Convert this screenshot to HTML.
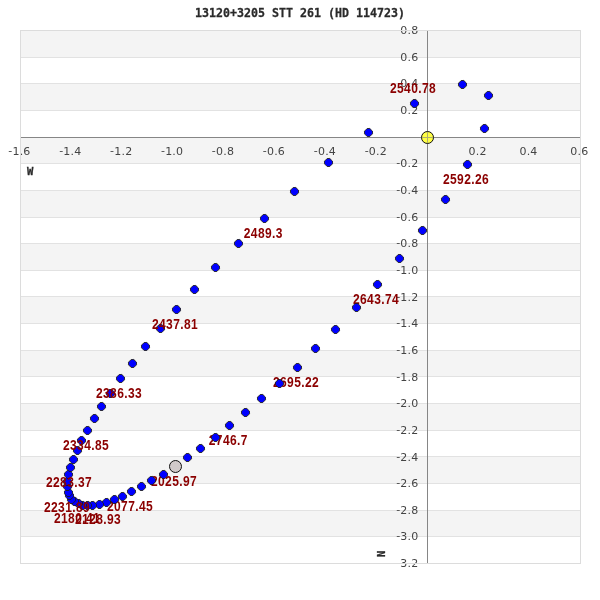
<!DOCTYPE html>
<html lang="en"><head><meta charset="utf-8"><title>13120+3205 STT 261 (HD 114723)</title>
<style>
html,body{margin:0;padding:0;background:#fff;}
body{width:600px;height:600px;overflow:hidden;}
svg{display:block;}
.tk{font-family:"DejaVu Sans","Liberation Sans",sans-serif;font-size:11px;fill:#444;letter-spacing:0.2px;}
.lb{font-family:"Liberation Sans",sans-serif;font-weight:bold;font-size:14.67px;fill:#8b0000;letter-spacing:0.45px;}
.tt{font-family:"DejaVu Sans Mono","Liberation Mono",monospace;font-weight:bold;font-size:12.3px;fill:#2a2a2a;stroke:#2a2a2a;stroke-width:0.28px;}
.ax{font-family:"DejaVu Sans Mono","Liberation Mono",monospace;font-weight:bold;font-size:10.5px;fill:#2a2a2a;stroke:#2a2a2a;stroke-width:0.3px;}
.pt{fill:#0000ff;stroke:#1c1c14;stroke-opacity:0.85;stroke-width:1;stroke-linejoin:round;}
</style></head><body>
<svg width="600" height="600" viewBox="0 0 600 600">
<rect x="0" y="0" width="600" height="600" fill="#ffffff"/>
<g shape-rendering="crispEdges">
<rect x="20" y="30" width="560" height="27" fill="#f4f4f4"/>
<rect x="20" y="83" width="560" height="27" fill="#f4f4f4"/>
<rect x="20" y="137" width="560" height="26" fill="#f4f4f4"/>
<rect x="20" y="190" width="560" height="27" fill="#f4f4f4"/>
<rect x="20" y="243" width="560" height="27" fill="#f4f4f4"/>
<rect x="20" y="296" width="560" height="27" fill="#f4f4f4"/>
<rect x="20" y="350" width="560" height="26" fill="#f4f4f4"/>
<rect x="20" y="403" width="560" height="27" fill="#f4f4f4"/>
<rect x="20" y="456" width="560" height="27" fill="#f4f4f4"/>
<rect x="20" y="510" width="560" height="26" fill="#f4f4f4"/>
<line x1="20" y1="57.5" x2="581" y2="57.5" stroke="#e2e2e2" stroke-width="1"/>
<line x1="20" y1="83.5" x2="581" y2="83.5" stroke="#e2e2e2" stroke-width="1"/>
<line x1="20" y1="110.5" x2="581" y2="110.5" stroke="#e2e2e2" stroke-width="1"/>
<line x1="20" y1="137.5" x2="581" y2="137.5" stroke="#e2e2e2" stroke-width="1"/>
<line x1="20" y1="163.5" x2="581" y2="163.5" stroke="#e2e2e2" stroke-width="1"/>
<line x1="20" y1="190.5" x2="581" y2="190.5" stroke="#e2e2e2" stroke-width="1"/>
<line x1="20" y1="217.5" x2="581" y2="217.5" stroke="#e2e2e2" stroke-width="1"/>
<line x1="20" y1="243.5" x2="581" y2="243.5" stroke="#e2e2e2" stroke-width="1"/>
<line x1="20" y1="270.5" x2="581" y2="270.5" stroke="#e2e2e2" stroke-width="1"/>
<line x1="20" y1="296.5" x2="581" y2="296.5" stroke="#e2e2e2" stroke-width="1"/>
<line x1="20" y1="323.5" x2="581" y2="323.5" stroke="#e2e2e2" stroke-width="1"/>
<line x1="20" y1="350.5" x2="581" y2="350.5" stroke="#e2e2e2" stroke-width="1"/>
<line x1="20" y1="376.5" x2="581" y2="376.5" stroke="#e2e2e2" stroke-width="1"/>
<line x1="20" y1="403.5" x2="581" y2="403.5" stroke="#e2e2e2" stroke-width="1"/>
<line x1="20" y1="430.5" x2="581" y2="430.5" stroke="#e2e2e2" stroke-width="1"/>
<line x1="20" y1="456.5" x2="581" y2="456.5" stroke="#e2e2e2" stroke-width="1"/>
<line x1="20" y1="483.5" x2="581" y2="483.5" stroke="#e2e2e2" stroke-width="1"/>
<line x1="20" y1="510.5" x2="581" y2="510.5" stroke="#e2e2e2" stroke-width="1"/>
<line x1="20" y1="536.5" x2="581" y2="536.5" stroke="#e2e2e2" stroke-width="1"/>
<line x1="20" y1="137.5" x2="581" y2="137.5" stroke="#868686" stroke-width="1"/>
<line x1="427.5" y1="30" x2="427.5" y2="564" stroke="#868686" stroke-width="1"/>
</g>
<g class="tk">
<text x="418.4" y="34.1" text-anchor="end">0.8</text>
<text x="418.4" y="60.7" text-anchor="end">0.6</text>
<text x="418.4" y="87.4" text-anchor="end">0.4</text>
<text x="418.4" y="114.1" text-anchor="end">0.2</text>
<text x="418.4" y="167.3" text-anchor="end"><tspan dy="-1">-</tspan><tspan dy="1">0.2</tspan></text>
<text x="418.4" y="194.0" text-anchor="end"><tspan dy="-1">-</tspan><tspan dy="1">0.4</tspan></text>
<text x="418.4" y="220.7" text-anchor="end"><tspan dy="-1">-</tspan><tspan dy="1">0.6</tspan></text>
<text x="418.4" y="247.3" text-anchor="end"><tspan dy="-1">-</tspan><tspan dy="1">0.8</tspan></text>
<text x="418.4" y="274.0" text-anchor="end"><tspan dy="-1">-</tspan><tspan dy="1">1.0</tspan></text>
<text x="418.4" y="300.6" text-anchor="end"><tspan dy="-1">-</tspan><tspan dy="1">1.2</tspan></text>
<text x="418.4" y="327.3" text-anchor="end"><tspan dy="-1">-</tspan><tspan dy="1">1.4</tspan></text>
<text x="418.4" y="353.9" text-anchor="end"><tspan dy="-1">-</tspan><tspan dy="1">1.6</tspan></text>
<text x="418.4" y="380.6" text-anchor="end"><tspan dy="-1">-</tspan><tspan dy="1">1.8</tspan></text>
<text x="418.4" y="407.2" text-anchor="end"><tspan dy="-1">-</tspan><tspan dy="1">2.0</tspan></text>
<text x="418.4" y="433.9" text-anchor="end"><tspan dy="-1">-</tspan><tspan dy="1">2.2</tspan></text>
<text x="418.4" y="460.5" text-anchor="end"><tspan dy="-1">-</tspan><tspan dy="1">2.4</tspan></text>
<text x="418.4" y="487.2" text-anchor="end"><tspan dy="-1">-</tspan><tspan dy="1">2.6</tspan></text>
<text x="418.4" y="513.8" text-anchor="end"><tspan dy="-1">-</tspan><tspan dy="1">2.8</tspan></text>
<text x="418.4" y="540.4" text-anchor="end"><tspan dy="-1">-</tspan><tspan dy="1">3.0</tspan></text>
<text x="418.4" y="567.1" text-anchor="end"><tspan dy="-1">-</tspan><tspan dy="1">3.2</tspan></text>
<text x="19.4" y="155" text-anchor="middle"><tspan dy="-1">-</tspan><tspan dy="1">1.6</tspan></text>
<text x="70.3" y="155" text-anchor="middle"><tspan dy="-1">-</tspan><tspan dy="1">1.4</tspan></text>
<text x="121.2" y="155" text-anchor="middle"><tspan dy="-1">-</tspan><tspan dy="1">1.2</tspan></text>
<text x="172.1" y="155" text-anchor="middle"><tspan dy="-1">-</tspan><tspan dy="1">1.0</tspan></text>
<text x="223.0" y="155" text-anchor="middle"><tspan dy="-1">-</tspan><tspan dy="1">0.8</tspan></text>
<text x="273.9" y="155" text-anchor="middle"><tspan dy="-1">-</tspan><tspan dy="1">0.6</tspan></text>
<text x="324.9" y="155" text-anchor="middle"><tspan dy="-1">-</tspan><tspan dy="1">0.4</tspan></text>
<text x="375.8" y="155" text-anchor="middle"><tspan dy="-1">-</tspan><tspan dy="1">0.2</tspan></text>
<text x="477.6" y="155" text-anchor="middle">0.2</text>
<text x="528.5" y="155" text-anchor="middle">0.4</text>
<text x="579.4" y="155" text-anchor="middle">0.6</text>
</g>
<rect x="20.5" y="30.5" width="560" height="533" fill="none" stroke="#dcdcdc" stroke-width="1" shape-rendering="crispEdges"/>
<text class="tt" x="195" y="17.2" textLength="210" lengthAdjust="spacingAndGlyphs">13120+3205 STT 261 (HD 114723)</text>
<text class="ax" x="26.9" y="175">W</text>
<text class="ax" transform="translate(385,557) rotate(-90)">N</text>
<circle cx="427.5" cy="137.5" r="6" fill="#ffff44" stroke="#111" stroke-width="1"/>
<path d="M422 137.5H433M427.5 132V143" stroke="#b0b06f" stroke-width="1" fill="none" shape-rendering="crispEdges"/>
<circle cx="175.5" cy="466.5" r="6" fill="#d0c9c9" stroke="#111" stroke-width="1"/>
<text class="lb" transform="translate(151.0,485.7) scale(0.82,1)">2025.97</text>
<polygon class="pt" transform="translate(163.5,474.5)" points="-1.3,-4 1.3,-4 4,-1.3 4,1.3 1.3,4 -1.3,4 -4,1.3 -4,-1.3"/>
<polygon class="pt" transform="translate(151.5,480.5)" points="-1.3,-4 1.3,-4 4,-1.3 4,1.3 1.3,4 -1.3,4 -4,1.3 -4,-1.3"/>
<polygon class="pt" transform="translate(141.5,486.5)" points="-1.3,-4 1.3,-4 4,-1.3 4,1.3 1.3,4 -1.3,4 -4,1.3 -4,-1.3"/>
<polygon class="pt" transform="translate(131.5,491.5)" points="-1.3,-4 1.3,-4 4,-1.3 4,1.3 1.3,4 -1.3,4 -4,1.3 -4,-1.3"/>
<text class="lb" transform="translate(107.0,510.7) scale(0.82,1)">2077.45</text>
<polygon class="pt" transform="translate(122.5,496.5)" points="-1.3,-4 1.3,-4 4,-1.3 4,1.3 1.3,4 -1.3,4 -4,1.3 -4,-1.3"/>
<polygon class="pt" transform="translate(114.5,499.5)" points="-1.3,-4 1.3,-4 4,-1.3 4,1.3 1.3,4 -1.3,4 -4,1.3 -4,-1.3"/>
<polygon class="pt" transform="translate(106.5,502.5)" points="-1.3,-4 1.3,-4 4,-1.3 4,1.3 1.3,4 -1.3,4 -4,1.3 -4,-1.3"/>
<polygon class="pt" transform="translate(99.5,504.5)" points="-1.3,-4 1.3,-4 4,-1.3 4,1.3 1.3,4 -1.3,4 -4,1.3 -4,-1.3"/>
<text class="lb" transform="translate(75.0,523.7) scale(0.82,1)">2128.93</text>
<polygon class="pt" transform="translate(92.5,505.5)" points="-1.3,-4 1.3,-4 4,-1.3 4,1.3 1.3,4 -1.3,4 -4,1.3 -4,-1.3"/>
<polygon class="pt" transform="translate(87.5,505.5)" points="-1.3,-4 1.3,-4 4,-1.3 4,1.3 1.3,4 -1.3,4 -4,1.3 -4,-1.3"/>
<polygon class="pt" transform="translate(82.5,505.5)" points="-1.3,-4 1.3,-4 4,-1.3 4,1.3 1.3,4 -1.3,4 -4,1.3 -4,-1.3"/>
<polygon class="pt" transform="translate(78.5,503.5)" points="-1.3,-4 1.3,-4 4,-1.3 4,1.3 1.3,4 -1.3,4 -4,1.3 -4,-1.3"/>
<text class="lb" transform="translate(54.0,522.7) scale(0.82,1)">2180.41</text>
<polygon class="pt" transform="translate(74.5,501.5)" points="-1.3,-4 1.3,-4 4,-1.3 4,1.3 1.3,4 -1.3,4 -4,1.3 -4,-1.3"/>
<polygon class="pt" transform="translate(71.5,499.5)" points="-1.3,-4 1.3,-4 4,-1.3 4,1.3 1.3,4 -1.3,4 -4,1.3 -4,-1.3"/>
<polygon class="pt" transform="translate(69.5,495.5)" points="-1.3,-4 1.3,-4 4,-1.3 4,1.3 1.3,4 -1.3,4 -4,1.3 -4,-1.3"/>
<polygon class="pt" transform="translate(68.5,492.5)" points="-1.3,-4 1.3,-4 4,-1.3 4,1.3 1.3,4 -1.3,4 -4,1.3 -4,-1.3"/>
<text class="lb" transform="translate(44.0,511.7) scale(0.82,1)">2231.89</text>
<polygon class="pt" transform="translate(67.5,486.5)" points="-1.3,-4 1.3,-4 4,-1.3 4,1.3 1.3,4 -1.3,4 -4,1.3 -4,-1.3"/>
<polygon class="pt" transform="translate(67.5,481.5)" points="-1.3,-4 1.3,-4 4,-1.3 4,1.3 1.3,4 -1.3,4 -4,1.3 -4,-1.3"/>
<polygon class="pt" transform="translate(68.5,474.5)" points="-1.3,-4 1.3,-4 4,-1.3 4,1.3 1.3,4 -1.3,4 -4,1.3 -4,-1.3"/>
<polygon class="pt" transform="translate(70.5,467.5)" points="-1.3,-4 1.3,-4 4,-1.3 4,1.3 1.3,4 -1.3,4 -4,1.3 -4,-1.3"/>
<text class="lb" transform="translate(46.0,486.7) scale(0.82,1)">2283.37</text>
<polygon class="pt" transform="translate(73.5,459.5)" points="-1.3,-4 1.3,-4 4,-1.3 4,1.3 1.3,4 -1.3,4 -4,1.3 -4,-1.3"/>
<polygon class="pt" transform="translate(77.5,450.5)" points="-1.3,-4 1.3,-4 4,-1.3 4,1.3 1.3,4 -1.3,4 -4,1.3 -4,-1.3"/>
<polygon class="pt" transform="translate(81.5,440.5)" points="-1.3,-4 1.3,-4 4,-1.3 4,1.3 1.3,4 -1.3,4 -4,1.3 -4,-1.3"/>
<polygon class="pt" transform="translate(87.5,430.5)" points="-1.3,-4 1.3,-4 4,-1.3 4,1.3 1.3,4 -1.3,4 -4,1.3 -4,-1.3"/>
<text class="lb" transform="translate(63.0,449.7) scale(0.82,1)">2334.85</text>
<polygon class="pt" transform="translate(94.5,418.5)" points="-1.3,-4 1.3,-4 4,-1.3 4,1.3 1.3,4 -1.3,4 -4,1.3 -4,-1.3"/>
<polygon class="pt" transform="translate(101.5,406.5)" points="-1.3,-4 1.3,-4 4,-1.3 4,1.3 1.3,4 -1.3,4 -4,1.3 -4,-1.3"/>
<polygon class="pt" transform="translate(110.5,393.5)" points="-1.3,-4 1.3,-4 4,-1.3 4,1.3 1.3,4 -1.3,4 -4,1.3 -4,-1.3"/>
<polygon class="pt" transform="translate(120.5,378.5)" points="-1.3,-4 1.3,-4 4,-1.3 4,1.3 1.3,4 -1.3,4 -4,1.3 -4,-1.3"/>
<text class="lb" transform="translate(96.0,397.7) scale(0.82,1)">2386.33</text>
<polygon class="pt" transform="translate(132.5,363.5)" points="-1.3,-4 1.3,-4 4,-1.3 4,1.3 1.3,4 -1.3,4 -4,1.3 -4,-1.3"/>
<polygon class="pt" transform="translate(145.5,346.5)" points="-1.3,-4 1.3,-4 4,-1.3 4,1.3 1.3,4 -1.3,4 -4,1.3 -4,-1.3"/>
<polygon class="pt" transform="translate(160.5,328.5)" points="-1.3,-4 1.3,-4 4,-1.3 4,1.3 1.3,4 -1.3,4 -4,1.3 -4,-1.3"/>
<polygon class="pt" transform="translate(176.5,309.5)" points="-1.3,-4 1.3,-4 4,-1.3 4,1.3 1.3,4 -1.3,4 -4,1.3 -4,-1.3"/>
<text class="lb" transform="translate(152.0,328.7) scale(0.82,1)">2437.81</text>
<polygon class="pt" transform="translate(194.5,289.5)" points="-1.3,-4 1.3,-4 4,-1.3 4,1.3 1.3,4 -1.3,4 -4,1.3 -4,-1.3"/>
<polygon class="pt" transform="translate(215.5,267.5)" points="-1.3,-4 1.3,-4 4,-1.3 4,1.3 1.3,4 -1.3,4 -4,1.3 -4,-1.3"/>
<polygon class="pt" transform="translate(238.5,243.5)" points="-1.3,-4 1.3,-4 4,-1.3 4,1.3 1.3,4 -1.3,4 -4,1.3 -4,-1.3"/>
<polygon class="pt" transform="translate(264.5,218.5)" points="-1.3,-4 1.3,-4 4,-1.3 4,1.3 1.3,4 -1.3,4 -4,1.3 -4,-1.3"/>
<text class="lb" transform="translate(243.8,237.7) scale(0.82,1)">2489.3</text>
<polygon class="pt" transform="translate(294.5,191.5)" points="-1.3,-4 1.3,-4 4,-1.3 4,1.3 1.3,4 -1.3,4 -4,1.3 -4,-1.3"/>
<polygon class="pt" transform="translate(328.5,162.5)" points="-1.3,-4 1.3,-4 4,-1.3 4,1.3 1.3,4 -1.3,4 -4,1.3 -4,-1.3"/>
<polygon class="pt" transform="translate(368.5,132.5)" points="-1.3,-4 1.3,-4 4,-1.3 4,1.3 1.3,4 -1.3,4 -4,1.3 -4,-1.3"/>
<polygon class="pt" transform="translate(414.5,103.5)" points="-1.3,-4 1.3,-4 4,-1.3 4,1.3 1.3,4 -1.3,4 -4,1.3 -4,-1.3"/>
<text class="lb" transform="translate(390.0,92.7) scale(0.82,1)">2540.78</text>
<polygon class="pt" transform="translate(462.5,84.5)" points="-1.3,-4 1.3,-4 4,-1.3 4,1.3 1.3,4 -1.3,4 -4,1.3 -4,-1.3"/>
<polygon class="pt" transform="translate(488.5,95.5)" points="-1.3,-4 1.3,-4 4,-1.3 4,1.3 1.3,4 -1.3,4 -4,1.3 -4,-1.3"/>
<polygon class="pt" transform="translate(484.5,128.5)" points="-1.3,-4 1.3,-4 4,-1.3 4,1.3 1.3,4 -1.3,4 -4,1.3 -4,-1.3"/>
<polygon class="pt" transform="translate(467.5,164.5)" points="-1.3,-4 1.3,-4 4,-1.3 4,1.3 1.3,4 -1.3,4 -4,1.3 -4,-1.3"/>
<text class="lb" transform="translate(443.0,183.7) scale(0.82,1)">2592.26</text>
<polygon class="pt" transform="translate(445.5,199.5)" points="-1.3,-4 1.3,-4 4,-1.3 4,1.3 1.3,4 -1.3,4 -4,1.3 -4,-1.3"/>
<polygon class="pt" transform="translate(422.5,230.5)" points="-1.3,-4 1.3,-4 4,-1.3 4,1.3 1.3,4 -1.3,4 -4,1.3 -4,-1.3"/>
<polygon class="pt" transform="translate(399.5,258.5)" points="-1.3,-4 1.3,-4 4,-1.3 4,1.3 1.3,4 -1.3,4 -4,1.3 -4,-1.3"/>
<polygon class="pt" transform="translate(377.5,284.5)" points="-1.3,-4 1.3,-4 4,-1.3 4,1.3 1.3,4 -1.3,4 -4,1.3 -4,-1.3"/>
<text class="lb" transform="translate(353.0,303.7) scale(0.82,1)">2643.74</text>
<polygon class="pt" transform="translate(356.5,307.5)" points="-1.3,-4 1.3,-4 4,-1.3 4,1.3 1.3,4 -1.3,4 -4,1.3 -4,-1.3"/>
<polygon class="pt" transform="translate(335.5,329.5)" points="-1.3,-4 1.3,-4 4,-1.3 4,1.3 1.3,4 -1.3,4 -4,1.3 -4,-1.3"/>
<polygon class="pt" transform="translate(315.5,348.5)" points="-1.3,-4 1.3,-4 4,-1.3 4,1.3 1.3,4 -1.3,4 -4,1.3 -4,-1.3"/>
<polygon class="pt" transform="translate(297.5,367.5)" points="-1.3,-4 1.3,-4 4,-1.3 4,1.3 1.3,4 -1.3,4 -4,1.3 -4,-1.3"/>
<text class="lb" transform="translate(273.0,386.7) scale(0.82,1)">2695.22</text>
<polygon class="pt" transform="translate(279.5,383.5)" points="-1.3,-4 1.3,-4 4,-1.3 4,1.3 1.3,4 -1.3,4 -4,1.3 -4,-1.3"/>
<polygon class="pt" transform="translate(261.5,398.5)" points="-1.3,-4 1.3,-4 4,-1.3 4,1.3 1.3,4 -1.3,4 -4,1.3 -4,-1.3"/>
<polygon class="pt" transform="translate(245.5,412.5)" points="-1.3,-4 1.3,-4 4,-1.3 4,1.3 1.3,4 -1.3,4 -4,1.3 -4,-1.3"/>
<polygon class="pt" transform="translate(229.5,425.5)" points="-1.3,-4 1.3,-4 4,-1.3 4,1.3 1.3,4 -1.3,4 -4,1.3 -4,-1.3"/>
<text class="lb" transform="translate(208.8,444.7) scale(0.82,1)">2746.7</text>
<polygon class="pt" transform="translate(215.5,437.5)" points="-1.3,-4 1.3,-4 4,-1.3 4,1.3 1.3,4 -1.3,4 -4,1.3 -4,-1.3"/>
<polygon class="pt" transform="translate(200.5,448.5)" points="-1.3,-4 1.3,-4 4,-1.3 4,1.3 1.3,4 -1.3,4 -4,1.3 -4,-1.3"/>
<polygon class="pt" transform="translate(187.5,457.5)" points="-1.3,-4 1.3,-4 4,-1.3 4,1.3 1.3,4 -1.3,4 -4,1.3 -4,-1.3"/>
</svg></body></html>
